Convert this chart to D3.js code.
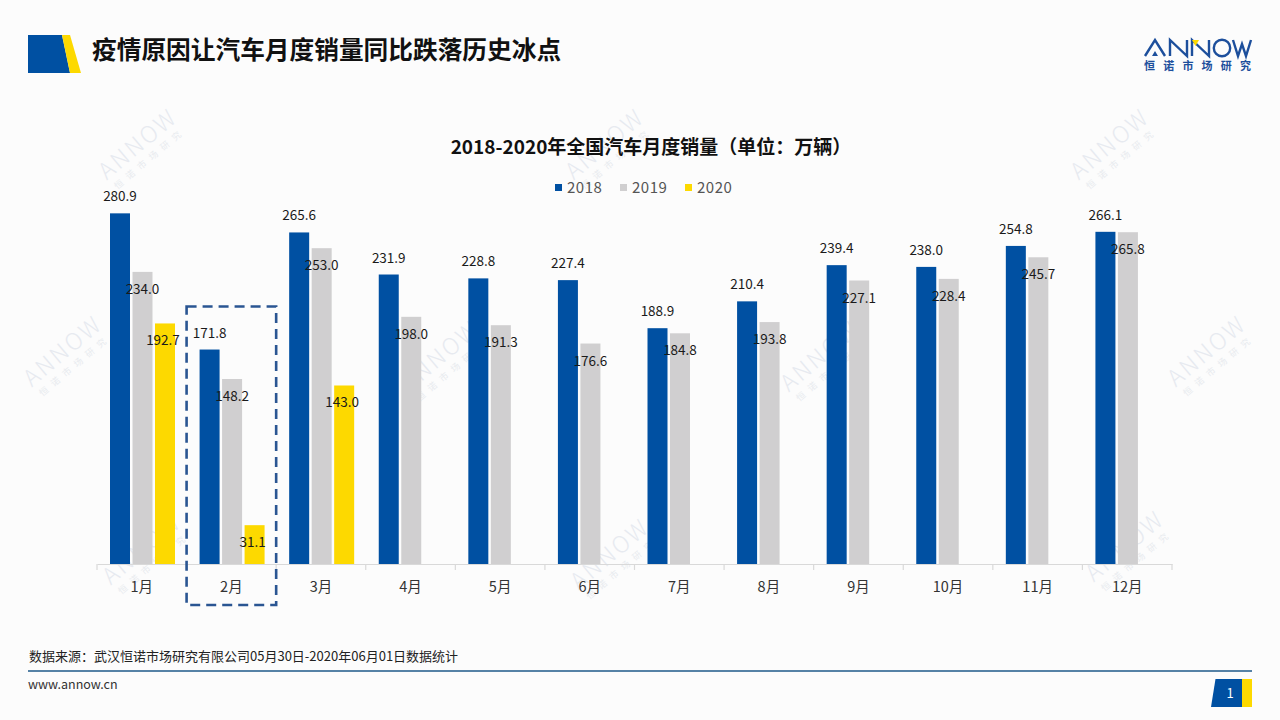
<!DOCTYPE html>
<html>
<head>
<meta charset="utf-8">
<script src="https://cdn.jsdelivr.net/npm/d3@7"></script>
<style>
  html, body { margin: 0; padding: 0; background: #fcfcfc; }
  svg { display: block; }
  text { font-family: "Noto Sans CJK SC", "Noto Sans", sans-serif; }
</style>
</head>
<body>
<svg id="chart" width="1280" height="720"></svg>
<script>
// ---- data ----
const months = ["1月","2月","3月","4月","5月","6月","7月","8月","9月","10月","11月","12月"];
const years = ["2018","2019","2020"];
const sales2018 = [280.9,171.8,265.6,231.9,228.8,227.4,188.9,210.4,239.4,238.0,254.8,266.1];
const sales2019 = [234.0,148.2,253.0,198.0,191.3,176.6,184.8,193.8,227.1,228.4,245.7,265.8];
const sales2020 = [192.7,31.1,143.0,null,null,null,null,null,null,null,null,null];
const colors = ["#0050a2","#d0cfd0","#fdd900"];
const pageTitle = "疫情原因让汽车月度销量同比跌落历史冰点";
const chartTitle = "2018-2020年全国汽车月度销量（单位：万辆）";
const sourceNote = "数据来源：武汉恒诺市场研究有限公司05月30日-2020年06月01日数据统计";
const highlightMonth = "2月";

const svg = d3.select("#chart");
svg.append("rect").attr("width",1280).attr("height",720).attr("fill","#fcfcfc");

// ---- watermarks ----
const wmPos = [[143,150],[610,150],[1115,150],[68,357],[445,362],[825,362],[1212,357],[147,555],[615,560],[1130,552]];
const wm = svg.append("g").attr("class","watermarks");
wmPos.forEach(([cx,cy]) => {
  const g = wm.append("g").attr("transform",`translate(${cx},${cy}) rotate(-40)`);
  g.append("text").attr("x",0).attr("y",0).attr("text-anchor","middle")
    .attr("font-size",23).attr("font-weight",300).attr("letter-spacing",2.5)
    .attr("fill","#e7eaf0").attr("font-family","DejaVu Sans, sans-serif").text("ANNOW");
  g.append("text").attr("x",0).attr("y",14).attr("text-anchor","middle")
    .attr("font-size",9).attr("letter-spacing",6)
    .attr("fill","#e8ebef").text("恒诺市场研究");
});

// ---- header ----
svg.append("path").attr("d","M28,35 L62,35 L70,73 L28,73 Z").attr("fill","#0050a2");
svg.append("path").attr("d","M62,35 L70,35 L81,73 L70,73 Z").attr("fill","#fdd900");
svg.append("text").attr("x",92).attr("y",59).attr("font-size",24.7).attr("font-weight",700)
  .attr("fill","#111").text(pageTitle);

// logo
const logo = svg.append("g").attr("fill","none").attr("stroke","#1d4f9c").attr("stroke-width",2.4).attr("stroke-linejoin","miter");
logo.append("path").attr("d","M1145,56 L1155,40 L1165,56");
logo.append("path").attr("d","M1152,56 L1155,51 L1158,56 Z").attr("fill","#1d4f9c").attr("stroke","none");
logo.append("path").attr("d","M1170,56 L1170,40 L1187,56 L1187,40");
logo.append("path").attr("d","M1192,56 L1192,40 L1209,56 L1209,40");
logo.append("path").attr("d","M1192,40 L1199,40 L1195.5,46 Z").attr("fill","#fdd900").attr("stroke","none");
logo.append("circle").attr("cx",1222).attr("cy",48).attr("r",8.2);
logo.append("path").attr("d","M1233,40 L1238,56 L1242,44 L1246,56 L1251,40");
svg.append("text").attr("x",1144).attr("y",70).attr("font-size",11).attr("font-weight",700)
  .attr("letter-spacing",8.2).attr("fill","#1d4f9c").text("恒诺市场研究");

// ---- chart title & legend ----
svg.append("text").attr("x",651).attr("y",154).attr("text-anchor","middle")
  .attr("font-size",19).attr("font-weight",700).attr("fill","#111").text(chartTitle);

const legendX = [555,620,685];
const legend = svg.append("g");
years.forEach((yr,i) => {
  legend.append("rect").attr("x",legendX[i]).attr("y",184).attr("width",7).attr("height",7).attr("fill",colors[i]);
  legend.append("text").attr("x",legendX[i]+12).attr("y",193).attr("font-size",15)
    .attr("fill","#555").attr("letter-spacing",0.5).text(yr);
});

// ---- scales ----
const x0 = d3.scaleBand().domain(months).range([97,1172]).paddingInner(0).paddingOuter(0);
const x1 = d3.scaleBand().domain(years).range([13,78]).paddingInner(0.111).paddingOuter(0);
const y = d3.scaleLinear().domain([0,300]).range([564,189.5]);

const series = [sales2018, sales2019, sales2020];
const rows = [];
months.forEach((m,i) => years.forEach((yr,k) => {
  const v = series[k][i];
  if (v != null) rows.push({month:m, year:yr, k, value:v});
}));

// bars
svg.append("g").selectAll("rect").data(rows).join("rect")
  .attr("x", d => x0(d.month) + x1(d.year))
  .attr("y", d => y(d.value))
  .attr("width", x1.bandwidth())
  .attr("height", d => y(0) - y(d.value))
  .attr("fill", d => colors[d.k]);

// axis
const axis = d3.axisBottom(x0).tickSize(0).tickPadding(18);
const gx = svg.append("g").attr("transform",`translate(0,${y(0)})`).call(axis);
gx.select(".domain").attr("stroke","#d9d9d9").attr("stroke-width",1.2);
gx.selectAll("text").attr("font-size",14.5).attr("fill","#333")
  .attr("font-family","\"Noto Sans CJK SC\", sans-serif");
const bounds = months.map(m => x0(m)).concat([x0(months[months.length-1]) + x0.bandwidth()]);
gx.selectAll("line.bound").data(bounds).join("line").attr("class","bound")
  .attr("x1", d => d).attr("x2", d => d).attr("y1",0).attr("y2",6)
  .attr("stroke","#d9d9d9").attr("stroke-width",1.2);

// labels
svg.append("g").selectAll("text").data(rows).join("text")
  .attr("x", d => x0(d.month) + x1(d.year) + x1.bandwidth()/2 - (d.k === 2 ? 2 : 0))
  .attr("y", d => d.k === 0 ? y(d.value) - 12 : y(d.value) + 22)
  .attr("text-anchor","middle")
  .attr("font-size",13.5).attr("fill","#1a1a1a")
  .text(d => d.value.toFixed(1));

// highlight dashed box
svg.append("rect")
  .attr("x", x0(highlightMonth)).attr("y", y(sales2018[months.indexOf(highlightMonth)]) - 43)
  .attr("width", x0.bandwidth()).attr("height", 605 - (y(sales2018[months.indexOf(highlightMonth)]) - 43))
  .attr("fill","none").attr("stroke","#2a5592").attr("stroke-width",2.6).attr("stroke-dasharray","10,6");

// ---- footer ----
svg.append("text").attr("x",29).attr("y",661).attr("font-size",13).attr("fill","#222").text(sourceNote);
svg.append("line").attr("x1",28).attr("x2",1252).attr("y1",671).attr("y2",671)
  .attr("stroke","#1f5a8a").attr("stroke-width",1.5);
svg.append("text").attr("x",28).attr("y",689).attr("font-size",12.5).attr("fill","#333").text("www.annow.cn");
svg.append("path").attr("d","M1215.5,679 L1242,679 L1242,707 L1211,707 Z").attr("fill","#0050a2");
svg.append("rect").attr("x",1242).attr("y",679).attr("width",10).attr("height",28).attr("fill","#fdd900");
svg.append("text").attr("x",1230).attr("y",698).attr("text-anchor","middle").attr("font-size",13)
  .attr("fill","#fff").text("1");
</script>
</body>
</html>
